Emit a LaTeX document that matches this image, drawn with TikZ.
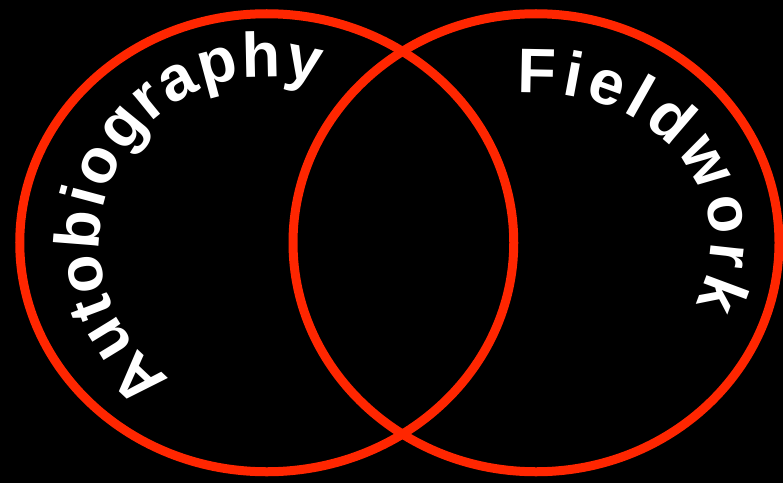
\documentclass[tikz,border=0pt]{standalone}
\usepackage{fontspec}
\setmainfont{Liberation Sans}
\usepackage{xcolor}
\usepackage{tikz}
\usetikzlibrary{shapes.geometric,decorations.text}
\definecolor{vennred}{RGB}{255,38,0}
\definecolor{backblack}{RGB}{0,0,0}
\newcommand{\vennfont}{\fontsize{63}{63}\selectfont\bfseries}
\newcommand{\asp}[1]{#1\kern2pt}
\newcommand{\wsp}[1]{#1\kern5.5pt}
\tikzset{
  setcircle/.style={ellipse, draw=vennred, line width=9pt, inner sep=0pt},
  arctext/.style={decorate, decoration={text along path, text align=center,
    text color=white, text format delimiters={[}{]}, text={#1}}}
}

\begin{document}
\begin{tikzpicture}[x=1pt, y=1pt]
\useasboundingbox (0,0) rectangle (783,483);
\fill[backblack] (0,0) rectangle (783,483);

\node[setcircle, minimum width=494pt, minimum height=458pt] (autob) at (266.75,240.25) {};
\node[setcircle, minimum width=486pt, minimum height=458pt] (field) at (536,240.25) {};

% labels follow the inside of each set
\path[arctext={[\vennfont]{\asp{A}}{\asp{u}}{\asp{t}}{\asp{o}}{\asp{b}}{\asp{i}}{\asp{o}}{\asp{g}}{\asp{r}}{\asp{a}}{\asp{p}}{\asp{h}}y}]
  (autob.center) ++(248.5:167 and 166) arc[start angle=248.5, end angle=58.5, x radius=167, y radius=166];
\path[arctext={[\vennfont]{\wsp{F}}{\wsp{i}}{\wsp{e}}{\wsp{l}}{\wsp{d}}{\wsp{w}}{\wsp{o}}{\wsp{r}}k}]
  (field.center) ++(115:175 and 150) arc[start angle=115, end angle=-45, x radius=175, y radius=150];
\end{tikzpicture}
\end{document}
